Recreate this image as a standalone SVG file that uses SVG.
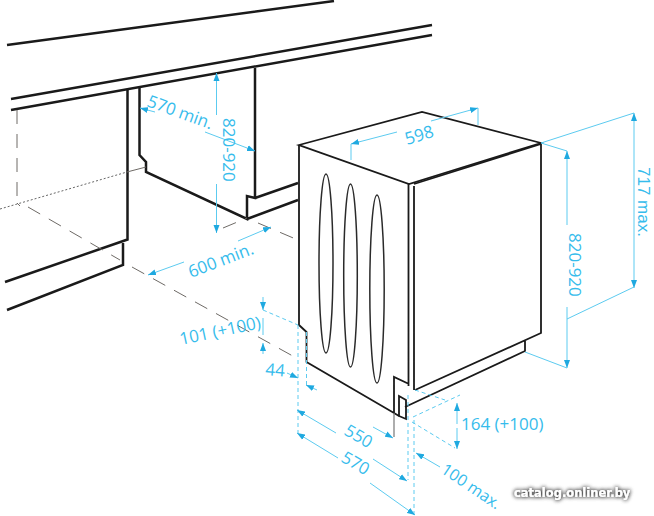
<svg xmlns="http://www.w3.org/2000/svg" width="654" height="516" viewBox="0 0 654 516">
<style>
.k{fill:none;stroke:#1a1a1a;stroke-width:2.500;stroke-linejoin:miter}
.m{fill:none;stroke:#1a1a1a;stroke-width:1.800;stroke-linejoin:miter}
.e{fill:none;stroke:#2a2a2a;stroke-width:1.500}
.g{fill:none;stroke:#6e6a66;stroke-width:1}
.d{stroke-dasharray:14 10}
.o{stroke-dasharray:2 2;stroke:#555;stroke-width:.9}
.b{fill:none;stroke:#5ccbf0;stroke-width:1}
.bd{fill:none;stroke:#5ccbf0;stroke-width:1;stroke-dasharray:4 3}
.a{marker-end:url(#ar)}
text.t{font-family:"Open Sans","Noto Sans",sans-serif;font-size:17px;fill:#36bcec}
</style>
<defs>
<marker id="ar" viewBox="0 0 8 6" refX="8" refY="3" markerWidth="8" markerHeight="6.500" markerUnits="userSpaceOnUse" orient="auto"><path d="M0 0L8 3L0 6Z" fill="#1fa9e0"/></marker>
<filter id="sh" x="-10%" y="-60%" width="120%" height="220%"><feGaussianBlur in="SourceAlpha" stdDeviation="2.2" result="b"/><feFlood flood-color="#000" flood-opacity=".75"/><feComposite in2="b" operator="in"/><feMerge><feMergeNode/><feMergeNode/><feMergeNode in="SourceGraphic"/></feMerge></filter>
</defs>
<rect width="654" height="516" fill="#fff"/>
<g id="cabinet">
<path class="k" d="M7 45L334 1M11 99L432 25M11 110L432 35"/>
<path class="k" d="M127.500 90V239.500L5 282M123 243V265L7 310"/>
<path class="k" d="M139.500 88V155L146 162V172L247 219V196L255 198V68M255 198L298 183M247 219L298 200"/>
<path class="g d" d="M17 110V203"/>
<path class="g o" d="M0 209L127 172"/>
<path class="g" d="M127 172L146 167M17 203L20 206"/>
<path class="g d" d="M28 207L120 260"/>
<path class="g d" d="M132 267L300 360"/>
<path class="g d" d="M223 228L247 218M258 223L298 240"/>
</g>
<g id="appliance">
<path class="m" d="M299 145L422 112L541 143L409 184Z"/>
<path class="m" d="M299 145V325L306.500 332V362L394 413V377L409 384M408.500 184V386M414 186V390M414 184L541 144M541 143V333L415 390M525 341V351L405 407M394 413L399 416"/>
<path class="m" d="M399 396L406 400V419L399 416Z" fill="#fff"/>
<ellipse class="e" cx="326" cy="263.500" rx="7" ry="89.500"/>
<ellipse class="e" cx="350.500" cy="275.500" rx="6.800" ry="91.500"/>
<ellipse class="e" cx="377" cy="289" rx="7.200" ry="94"/>
<path d="M394 413V437" fill="none" stroke="#777" stroke-width="1.200"/>
</g>
<g id="dimensions">
<path class="b a" d="M155 112L140 108"/>
<path class="b a" d="M205 132L255 151"/>
<path class="b a" d="M216.500 115V73"/>
<path class="b a" d="M216.500 184V233"/>
<path class="b a" d="M184 262L148 275"/>
<path class="b a" d="M238 241L271 227"/>
<path class="b a" d="M397 132L351 144"/>
<path class="b a" d="M431 121L478 108"/>
<path class="b" d="M351 144V160M478 108V125"/>
<path class="b" d="M541 143L634 113"/>
<path class="b a" d="M634 150V113"/>
<path class="b a" d="M634 150V288"/>
<path class="b" d="M634 287L567 319"/>
<path class="b" d="M541 143L567 151"/>
<path class="b a" d="M567 225V151"/>
<path class="b a" d="M567 307V368"/>
<path class="b" d="M525 352L567 368"/>
<path class="b a" d="M457 424V403"/>
<path class="b a" d="M457 428V449"/>
<path class="bd" d="M413 417L460 395M412 422L455 448M415 390L445 400M408 395V480M414 420V515"/>
<path class="b a" d="M263 297V310"/>
<path class="b" d="M263 318V335"/>
<path class="b a" d="M263 354V343"/>
<path class="bd" d="M263 310L298 325M298 325V433M306.500 332V385"/>
<path class="b a" d="M287 373L298 378"/>
<path class="b a" d="M317 390L306 385"/>
<path class="b a" d="M336 433L297 410"/>
<path class="b a" d="M373 459L407 481"/>
<path class="b a" d="M338 458L297 433"/>
<path class="b a" d="M370 483L415 515"/>
<path class="b a" d="M373 427L393 438"/>
<path class="b a" d="M440 467L416 453"/>
<text class="t" transform="translate(146 106) rotate(20)">570 min.</text>
<text class="t" transform="translate(223 118) rotate(90)">820-920</text>
<text class="t" transform="translate(191 278) rotate(-21)">600 min.</text>
<text class="t" transform="translate(407 145) rotate(-17)">598</text>
<text class="t" transform="translate(638 167) rotate(90)" style="font-family:'Liberation Sans',sans-serif">717 max.</text>
<text class="t" transform="translate(569 233) rotate(90)">820-920</text>
<text class="t" x="461" y="430">164 (+100)</text>
<text class="t" transform="translate(181 345) rotate(-12)">101 (+100)</text>
<text class="t" transform="translate(265 375) rotate(5)">44</text>
<text class="t" transform="translate(343 434) rotate(30)">550</text>
<text class="t" transform="translate(340 461) rotate(30)">570</text>
<text class="t" transform="translate(440 472) rotate(34)" style="font-size:16px">100 max.</text>
</g>
<text x="514" y="497" filter="url(#sh)" style="font-family:'DejaVu Sans',sans-serif;font-size:11.500px;font-weight:bold;fill:#fff">catalog.onliner.by</text>
</svg>
